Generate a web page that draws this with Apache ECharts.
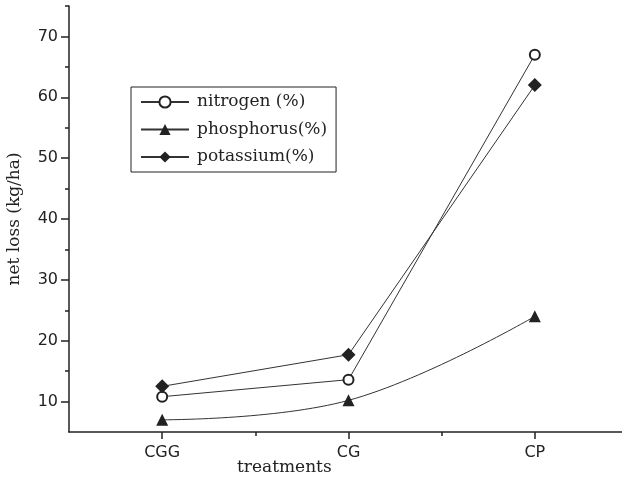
<!DOCTYPE html>
<html>
<head>
<meta charset="utf-8">
<script src="https://cdn.jsdelivr.net/npm/echarts@6/dist/echarts.min.js"></script>
<style>
  html, body { margin: 0; padding: 0; background: #fff; }
  #chart { width: 622px; height: 483px; }
</style>
</head>
<body>
<div id="chart"></div>
<script>
// Treatments along the x axis
const treatments = ['CGG', 'CG', 'CP'];
// Net nutrient loss (kg/ha) per treatment
const nitrogen = [10.8, 13.6, 67.0];
const phosphorus = [7.0, 10.2, 24.0];
const potassium = [12.5, 17.7, 62.0];
// Y tick labels
const yMajorTicks = [10, 20, 30, 40, 50, 60, 70];
const yMinorTicks = [15, 25, 35, 45, 55, 65, 75];

const ink = '#222';
const serif = '"DejaVu Serif", "Liberation Serif", serif';
const sans = '"DejaVu Sans", "Liberation Sans", sans-serif';

const toPoints = arr => arr.map((v, i) => [i + 1, v]);

const chart = echarts.init(document.getElementById('chart'));
chart.setOption({
  animation: false,
  backgroundColor: '#fff',
  grid: { left: 69, top: 6, right: -6, bottom: 51, outerBoundsMode: 'none', containLabel: false },
  xAxis: [
    {
      type: 'value', min: 0.5, max: 3.5,
      splitLine: { show: false },
      axisLine: { lineStyle: { color: ink, width: 1.5 } },
      axisTick: { customValues: [1, 2, 3], length: 7, lineStyle: { color: ink, width: 1.5 } },
      axisLabel: {
        customValues: [1, 2, 3],
        formatter: v => treatments[Math.round(v) - 1] || '',
        color: '#222', fontFamily: sans, fontSize: 16, margin: 13
      }
    },
    {
      type: 'value', min: 0.5, max: 3.5, position: 'bottom',
      splitLine: { show: false },
      axisLine: { show: false },
      axisTick: { customValues: [1.5, 2.5], length: 4, lineStyle: { color: ink, width: 1.5 } },
      axisLabel: { show: false }
    }
  ],
  yAxis: [
    {
      type: 'value', min: 5, max: 75,
      splitLine: { show: false },
      axisLine: { show: true, lineStyle: { color: ink, width: 1.5 } },
      axisTick: { show: true, customValues: yMajorTicks, length: 8, lineStyle: { color: ink, width: 1.5 } },
      axisLabel: { customValues: yMajorTicks, color: '#222', fontFamily: sans, fontSize: 16, margin: 11 },
      name: 'net loss (kg/ha)', nameLocation: 'middle', nameGap: 46,
      nameTextStyle: { fontFamily: serif, fontSize: 17, color: ink }
    },
    {
      type: 'value', min: 5, max: 75, position: 'left',
      splitLine: { show: false },
      axisLine: { show: false },
      axisTick: { show: true, customValues: yMinorTicks, length: 4, lineStyle: { color: ink, width: 1.5 } },
      axisLabel: { show: false }
    }
  ],
  legend: {
    orient: 'vertical', left: 131, top: 87,
    padding: [5, 9, 5, 9],
    itemGap: 7.5, itemWidth: 48, itemHeight: 14,
    borderColor: ink, borderWidth: 1,
    textStyle: { fontFamily: serif, fontSize: 17, lineHeight: 20, color: ink, padding: [0, 0, 0, 3] },
    data: ['nitrogen (%)', 'phosphorus(%)', 'potassium(%)']
  },
  series: [
    {
      name: 'nitrogen (%)', type: 'line', data: toPoints(nitrogen),
      symbol: 'emptyCircle', symbolSize: 10,
      lineStyle: { color: '#333', width: 1 },
      itemStyle: { color: ink, borderColor: ink, borderWidth: 1.2 }
    },
    {
      name: 'phosphorus(%)', type: 'line', data: toPoints(phosphorus),
      smooth: 0.4,
      symbol: 'triangle', symbolSize: 12,
      lineStyle: { color: '#333', width: 1 },
      itemStyle: { color: ink }
    },
    {
      name: 'potassium(%)', type: 'line', data: toPoints(potassium),
      symbol: 'diamond', symbolSize: 14,
      lineStyle: { color: '#333', width: 1 },
      itemStyle: { color: ink }
    }
  ],
  graphic: [
    {
      type: 'text', left: 237, top: 459,
      style: { text: 'treatments', font: '17px ' + serif, fill: ink }
    }
  ]
});
</script>
</body>
</html>
